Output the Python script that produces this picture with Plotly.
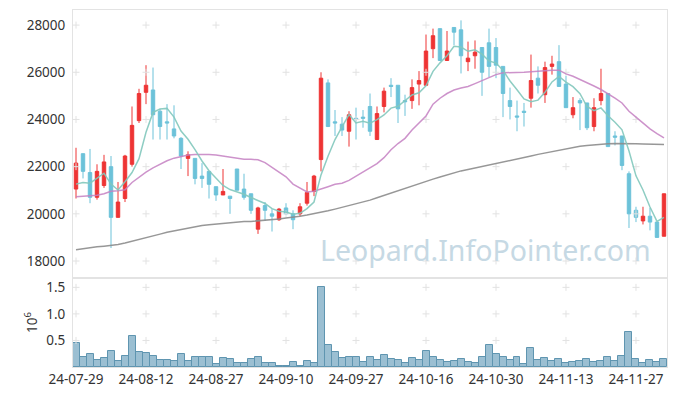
import plotly.graph_objects as go
from plotly.subplots import make_subplots

dates = [
    "24-07-29", "24-07-30", "24-07-31",
    "24-08-01", "24-08-02", "24-08-05", "24-08-06", "24-08-07", "24-08-08", "24-08-09",
    "24-08-12", "24-08-13", "24-08-14", "24-08-16", "24-08-19", "24-08-20", "24-08-21",
    "24-08-22", "24-08-23", "24-08-26", "24-08-27", "24-08-28", "24-08-29", "24-08-30",
    "24-09-02", "24-09-03", "24-09-04", "24-09-05", "24-09-06", "24-09-09", "24-09-10",
    "24-09-11", "24-09-12", "24-09-13", "24-09-19", "24-09-20", "24-09-23", "24-09-24",
    "24-09-25", "24-09-26", "24-09-27", "24-09-30",
    "24-10-02", "24-10-04", "24-10-07", "24-10-08", "24-10-10", "24-10-11", "24-10-14",
    "24-10-15", "24-10-16", "24-10-17", "24-10-18", "24-10-21", "24-10-22", "24-10-23",
    "24-10-24", "24-10-25", "24-10-28", "24-10-29", "24-10-30", "24-10-31",
    "24-11-01", "24-11-04", "24-11-05", "24-11-06", "24-11-07", "24-11-08", "24-11-11",
    "24-11-12", "24-11-13", "24-11-14", "24-11-15", "24-11-18", "24-11-19", "24-11-20",
    "24-11-21", "24-11-22", "24-11-25", "24-11-26", "24-11-27", "24-11-28", "24-11-29",
    "24-12-02", "24-12-03",
]

open_ = [21050, 22550, 21750, 20700, 21200, 22000, 19850, 20650, 22100, 23950,
         25150, 25250, 24350, 23900, 23600, 23200, 22350, 22350, 21600, 21800,
         21150, 20800, 20750, 21900, 21050, 20850, 19350, 20350, 20000, 19750,
         20250, 20000, 20000, 20450, 20950, 22300, 25550, 23900, 23800, 23500,
         24050, 24100, 24550, 23150, 24550, 25450, 25450, 24800, 24800, 25500,
         25450, 27000, 27850, 26500, 27900, 27800, 26450, 26700, 27050, 27250,
         27050, 26250, 24800, 24150, 24350, 24900, 25750, 25050, 26250, 26450,
         25500, 24200, 24800, 24700, 23700, 24800, 25100, 23300, 23300, 21700,
         20150, 19700, 19900, 19650, 19050]
high = [22800, 22550, 22750, 22100, 22500, 22450, 21350, 22500, 24550, 25300,
        26300, 26200, 24450, 24650, 24600, 23250, 22650, 22350, 22150, 21800,
        21150, 21900, 20750, 21900, 21700, 20850, 20300, 20500, 20200, 20250,
        20450, 20150, 20450, 21350, 21650, 26000, 25700, 24400, 24100, 24350,
        24500, 24400, 25100, 24550, 25350, 25750, 25450, 25050, 25700, 26050,
        27600, 27850, 27850, 27750, 27900, 28200, 27300, 27350, 27050, 27850,
        27450, 26250, 25350, 24800, 24700, 26750, 26250, 26450, 26700, 27150,
        25850, 24950, 24900, 24700, 24900, 26150, 25100, 23500, 23300, 21800,
        20300, 20300, 20250, 19650, 20850]
low = [20650, 21500, 20450, 20600, 21100, 18550, 19850, 20500, 22000, 23850,
       24650, 23150, 23150, 23150, 23200, 21900, 21600, 21250, 21100, 20650,
       20550, 20800, 20000, 21000, 20600, 20000, 19150, 19700, 19250, 19700,
       19950, 19350, 19900, 20350, 20750, 21800, 23700, 23300, 23300, 22850,
       23150, 23650, 23300, 23150, 24300, 24950, 23850, 24150, 24450, 24600,
       25450, 26600, 26500, 26500, 27150, 25950, 26050, 26150, 25000, 25800,
       25750, 24100, 24000, 23500, 23700, 24500, 25100, 24700, 25900, 25400,
       24500, 24050, 23550, 23550, 23500, 24600, 22850, 22900, 21850, 19400,
       19650, 19550, 19300, 19000, 19050]
close = [22150, 21800, 20700, 21800, 22200, 19850, 20500, 22450, 23750, 25100,
         25450, 24200, 23700, 23850, 23300, 22450, 22500, 21500, 21500, 21250,
         20800, 20950, 20650, 21000, 20700, 20150, 20250, 20150, 19900, 20200,
         20000, 19750, 20300, 20900, 21600, 25750, 23700, 23850, 23550, 24200,
         24000, 24050, 23500, 24250, 25200, 25400, 24450, 24750, 25350, 25650,
         26900, 27550, 26500, 26900, 27700, 26700, 26600, 26850, 26000, 26250,
         26300, 25100, 24550, 24100, 24300, 25650, 25450, 26200, 26350, 25400,
         24500, 24500, 24700, 23650, 24500, 25100, 22850, 23250, 22050, 20000,
         19850, 19900, 19650, 19000, 20850]
volume = [444000, 185000, 241000, 130000, 167000, 296000, 111000, 204000, 593000, 278000,
          259000, 204000, 130000, 130000, 111000, 241000, 111000, 185000, 185000, 185000,
          56000, 167000, 148000, 74000, 74000, 148000, 185000, 74000, 74000, 19000,
          19000, 93000, 19000, 111000, 74000, 1500000, 407000, 278000, 167000, 185000,
          185000, 93000, 185000, 130000, 222000, 148000, 130000, 74000, 167000, 130000,
          296000, 185000, 130000, 93000, 111000, 148000, 93000, 74000, 185000, 407000,
          241000, 185000, 130000, 185000, 56000, 352000, 130000, 167000, 111000, 148000,
          74000, 93000, 111000, 148000, 93000, 111000, 185000, 111000, 204000, 667000,
          148000, 74000, 130000, 93000, 148000]
ma5 = [21260, 21330, 21300, 21500, 21720, 21260, 21010, 21360, 21750, 22340,
       23460, 24300, 24440, 24470, 24100, 23510, 23160, 22720, 22240, 21830,
       21500, 21200, 21030, 20930, 20830, 20690, 20550, 20440, 20220, 20110,
       20080, 19980, 20020, 20220, 20500, 21650, 22440, 23150, 23690, 24210,
       23850, 23920, 23840, 23990, 24190, 24480, 24560, 24820, 25040, 25130,
       25430, 26040, 26400, 26700, 27100, 27070, 26890, 26950, 26770, 26480,
       26390, 26090, 25630, 25260, 24870, 24750, 24820, 25150, 25590, 25820,
       25580, 25390, 25090, 24550, 24370, 24490, 24160, 23880, 23560, 22660,
       21610, 21010, 20290, 19680, 19850]
ma20 = [20725, 20750, 20775, 20790, 20850, 20960, 20980, 21020, 21330, 21560,
        21770, 21950, 22100, 22250, 22360, 22440, 22490, 22520, 22530, 22510,
        22490, 22450, 22420, 22360, 22310, 22310, 22290, 22170, 21980, 21780,
        21570, 21260, 21080, 20930, 20960, 21040, 21150, 21250, 21300, 21420,
        21600, 21800, 21950, 22130, 22380, 22720, 22980, 23200, 23550, 23850,
        24150, 24650, 24900, 25100, 25250, 25330, 25400, 25520, 25640, 25780,
        25900, 25980, 25980, 25980, 26000, 26020, 26050, 26080, 26090, 26090,
        25930, 25830, 25700, 25560, 25420, 25270, 25100, 24900, 24700, 24350,
        24100, 23850, 23600, 23400, 23220]
ma_long = [18480, 18530, 18570, 18600, 18630, 18660, 18700, 18760, 18830, 18900,
           18980, 19060, 19140, 19220, 19280, 19350, 19410, 19460, 19510, 19540,
           19570, 19610, 19640, 19660, 19670, 19680, 19700, 19720, 19750, 19780,
           19820, 19850, 19900, 19950, 20000, 20060, 20130, 20200, 20270, 20340,
           20420, 20510, 20580, 20680, 20780, 20880, 20980, 21080, 21190, 21300,
           21400, 21470, 21560, 21650, 21740, 21820, 21880, 21940, 22000, 22070,
           22140, 22190, 22250, 22310, 22380, 22450, 22520, 22580, 22650, 22710,
           22770, 22820, 22860, 22900, 22930, 22960, 22975, 22985, 22990, 22985,
           22970, 22960, 22950, 22945, 22940]

x_ticks = ["24-07-29", "24-08-12", "24-08-27", "24-09-10", "24-09-27",
           "24-10-16", "24-10-30", "24-11-13", "24-11-27"]
price_ticks = [18000, 20000, 22000, 24000, 26000, 28000]
price_tick_text = ["18000", "20000", "22000", "24000", "26000", "28000"]
vol_ticks = [500000, 1000000, 1500000]
vol_tick_text = ["0.5", "1.0", "1.5"]

FONT = "Noto Sans"
UP = "#ee3434"
DOWN = "#6cc2d9"
GRIDC = "#e2e2e2"
AXC = "#e3e3e3"

fig = make_subplots(rows=2, cols=1, shared_xaxes=True, vertical_spacing=0,
                    row_heights=[268, 89])

# grid crosses at tick intersections (drawn first, behind the marks)
cx = [d for d in x_ticks for _ in price_ticks]
cy = [p for _ in x_ticks for p in price_ticks]
fig.add_trace(go.Scatter(x=cx, y=cy, mode="markers", hoverinfo="skip",
                         marker=dict(symbol="cross-thin", size=5,
                                     line=dict(color=GRIDC, width=1))),
              row=1, col=1)
vx = [d for d in x_ticks for _ in vol_ticks]
vy = [v for _ in x_ticks for v in vol_ticks]
fig.add_trace(go.Scatter(x=vx, y=vy, mode="markers", hoverinfo="skip",
                         marker=dict(symbol="cross-thin", size=5,
                                     line=dict(color=GRIDC, width=1))),
              row=2, col=1)

fig.add_trace(go.Scatter(x=dates, y=ma_long, mode="lines",
                         line=dict(color="rgba(140,140,140,0.9)", width=1.5)), row=1, col=1)
fig.add_trace(go.Scatter(x=dates, y=ma20, mode="lines",
                         line=dict(color="rgba(196,128,194,0.85)", width=1.5)), row=1, col=1)

fig.add_trace(go.Candlestick(
    x=dates, open=open_, high=high, low=low, close=close,
    increasing=dict(line=dict(color=UP, width=1), fillcolor=UP),
    decreasing=dict(line=dict(color=DOWN, width=1), fillcolor=DOWN),
    whiskerwidth=0,
), row=1, col=1)

fig.add_trace(go.Scatter(x=dates, y=ma5, mode="lines",
                         line=dict(color="rgba(130,200,188,0.9)", width=1.5)), row=1, col=1)

fig.add_trace(go.Bar(x=dates, y=volume,
                     marker=dict(color="rgba(122,170,195,0.75)",
                                 line=dict(color="#5f95b0", width=1))),
              row=2, col=1)

fig.add_annotation(text="Leopard.InfoPointer.com", xref="paper", yref="paper",
                   x=0.412, y=0.328, xanchor="left", yanchor="middle",
                   showarrow=False,
                   font=dict(family=FONT, size=28.5, color="#c6d9e4"))

# The page adds an 8px body margin, so the figure is sized 8px smaller
fig.update_layout(
    width=669, height=388,
    margin=dict(l=65, r=10, t=2, b=29),
    paper_bgcolor="white", plot_bgcolor="white",
    showlegend=False, bargap=0,
    font=dict(family=FONT, size=13, color="#333333"),
    hovermode=False,
)

fig.update_xaxes(type="category", categoryorder="array", categoryarray=dates,
                 range=[-0.43, 84.43], showgrid=False, automargin=False,
                 showline=True, mirror=True, linecolor=AXC, linewidth=1,
                 tickvals=x_ticks, ticktext=x_ticks, tickangle=0, ticks="",
                 zeroline=False, rangeslider=dict(visible=False))
fig.update_xaxes(showticklabels=False, row=1, col=1)
fig.update_xaxes(showticklabels=True, tickfont=dict(size=13.5, color="#333"), row=2, col=1)

fig.update_yaxes(range=[17280, 28640], tickvals=price_ticks, ticktext=price_tick_text,
                 showgrid=False, zeroline=False, showline=True, mirror=True, linecolor=AXC,
                 ticks="outside", ticklen=4, tickcolor="rgba(0,0,0,0)", automargin=False,
                 tickfont=dict(size=13.5, color="#333"), row=1, col=1)
fig.update_yaxes(range=[0, 1676000], tickvals=vol_ticks, ticktext=vol_tick_text,
                 showgrid=False, zeroline=False, showline=True, mirror=True,
                 linecolor=AXC, ticks="outside", ticklen=4, automargin=False,
                 tickcolor="rgba(0,0,0,0)", tickfont=dict(size=13.5, color="#333"),
                 title=dict(text="10<sup>6</sup>", standoff=5,
                            font=dict(size=13.5, color="#333")),
                 row=2, col=1)

fig.write_html("out.html")
